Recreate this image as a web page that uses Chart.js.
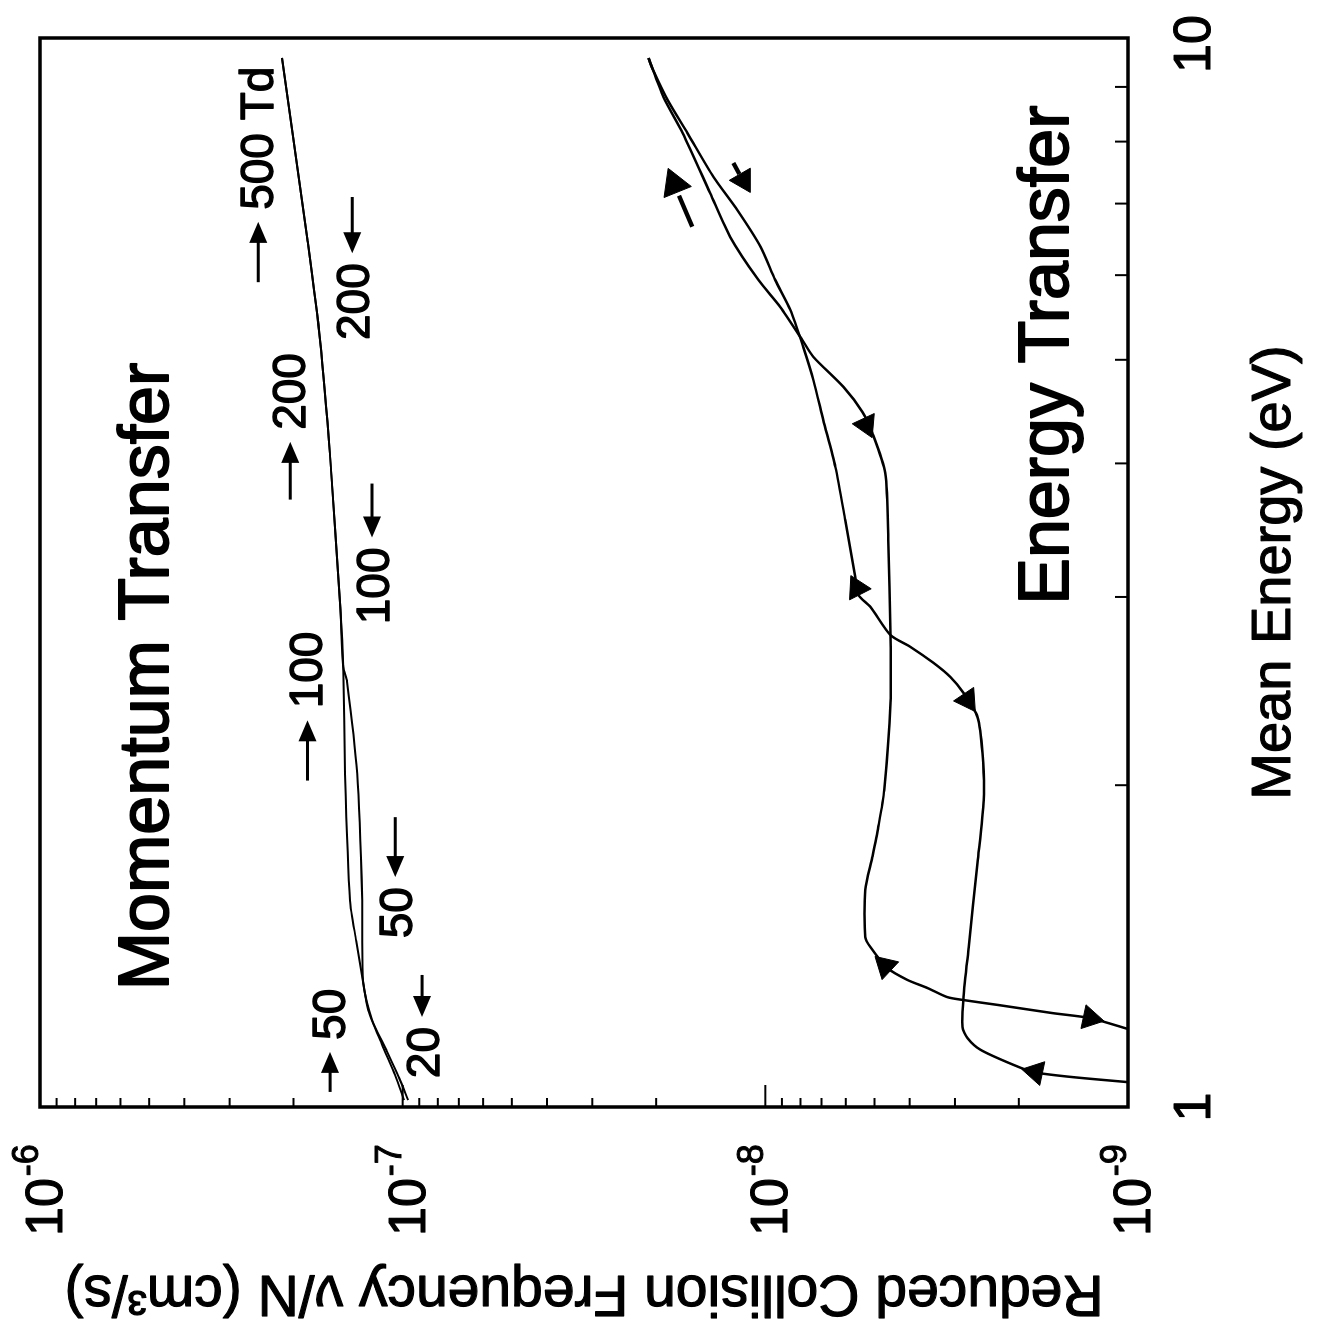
<!DOCTYPE html>
<html>
<head>
<meta charset="utf-8">
<script src="https://cdn.jsdelivr.net/npm/chart.js@4/dist/chart.umd.min.js"></script>
<style>
html,body{margin:0;padding:0;background:#fff;overflow:hidden;width:1321px;height:1342px;}
#wrap{position:absolute;left:0;top:0;width:1342px;height:1321px;transform-origin:0 0;transform:translateY(1342px) rotate(-90deg);}
canvas{display:block;}
</style>
</head>
<body>
<div id="wrap"><canvas id="c" width="1342" height="1321"></canvas></div>
<script>
// ---------- data (mean energy in eV, reduced collision frequency in cm^3/s) ----------
const momentum1Energy = [9.58, 8.03, 6.47, 5.22, 4.06, 2.94, 2.58, 2.05, 1.56, 1.43, 1.306, 1.232, 1.143, 1.071, 1.015];
const momentum1Freq   = [2.15e-7, 2.00e-7, 1.83e-7, 1.69e-7, 1.585e-7, 1.487e-7, 1.459e-7, 1.441e-7, 1.396e-7, 1.343e-7, 1.285e-7, 1.245e-7, 1.139e-7, 1.049e-7, 9.91e-8];
const momentum2Energy = [9.58, 8.03, 6.47, 5.22, 4.06, 2.94, 2.58, 2.50, 2.05, 1.56, 1.306, 1.206, 1.131, 1.064, 1.015];
const momentum2Freq   = [2.15e-7, 2.00e-7, 1.83e-7, 1.69e-7, 1.585e-7, 1.487e-7, 1.459e-7, 1.423e-7, 1.335e-7, 1.293e-7, 1.285e-7, 1.214e-7, 1.110e-7, 1.022e-7, 9.66e-8];

const energyAEnergy = [9.578, 8.808, 8.150, 7.161, 6.515, 5.938, 5.602, 5.219, 5.031, 4.716, 4.469, 4.272, 3.918, 3.392, 2.764, 2.388, 1.979, 1.828, 1.713, 1.596, 1.442, 1.411, 1.349, 1.315, 1.292, 1.267, 1.259, 1.246, 1.224, 1.211, 1.183];
const energyAFreq   = [2.10e-8, 1.91e-8, 1.69e-8, 1.42e-8, 1.25e-8, 1.045e-8, 9.09e-9, 7.91e-9, 7.37e-9, 6.09e-9, 5.40e-9, 5.07e-9, 4.67e-9, 4.58e-9, 4.52e-9, 4.52e-9, 4.70e-9, 4.88e-9, 5.07e-9, 5.30e-9, 5.30e-9, 5.13e-9, 4.61e-9, 4.06e-9, 3.57e-9, 3.15e-9, 2.84e-9, 2.29e-9, 1.61e-9, 1.27e-9, 1.0e-9];
const energyBEnergy = [9.578, 9.334, 8.750, 8.150, 7.413, 6.905, 6.376, 5.938, 5.567, 5.140, 4.787, 4.393, 3.969, 3.541, 3.132, 3.013, 2.936, 2.764, 2.694, 2.603, 2.525, 2.439, 2.316, 2.144, 1.937, 1.692, 1.411, 1.267, 1.188, 1.160, 1.131, 1.095, 1.078, 1.067, 1.055];
const energyBFreq   = [2.10e-8, 2.04e-8, 1.86e-8, 1.64e-8, 1.39e-8, 1.195e-8, 1.03e-8, 9.39e-9, 8.53e-9, 7.86e-9, 7.37e-9, 6.92e-9, 6.41e-9, 6.02e-9, 5.65e-9, 5.54e-9, 5.13e-9, 4.52e-9, 3.98e-9, 3.44e-9, 3.09e-9, 2.84e-9, 2.60e-9, 2.52e-9, 2.50e-9, 2.60e-9, 2.75e-9, 2.84e-9, 2.86e-9, 2.77e-9, 2.55e-9, 2.07e-9, 1.82e-9, 1.44e-9, 1.0e-9];

// direction arrowheads on the energy-transfer curves (last two: free arrows)
const headEnergy = [1.211, 1.355, 4.345, 1.078, 2.403, 3.058, 7.30, 7.36];
const headFreq   = [1.27e-9, 4.67e-9, 5.27e-9, 1.80e-9, 2.77e-9, 5.58e-9, 1.78e-8, 1.150e-8];
const headAngle  = [192, 43, 245, 12, 236, 63, 68, 0];
// shafts of the two free arrows
const shaftTailEnergy = [6.66, 7.64];
const shaftTailFreq   = [1.59e-8, 1.225e-8];
const shaftEndEnergy  = [7.12, 7.46];
const shaftEndFreq    = [1.73e-8, 1.179e-8];

// E/N markers along the momentum-transfer curves
const markLabels     = ['500 Td', '200', '100', '50', '200', '100', '50', '20'];
const markTailEnergy = [5.91, 3.70, 2.02, 1.033, 7.10, 3.83, 1.867, 1.329];
const markHeadEnergy = [6.73, 4.19, 2.30, 1.126, 6.29, 3.41, 1.641, 1.214];
const markFreq       = [2.50e-7, 2.04e-7, 1.83e-7, 1.585e-7, 1.378e-7, 1.214e-7, 1.049e-7, 8.84e-8];

// tick labels
const energyTickValues = [1, 10];
const energyTickLabels = ['1', '10'];
const energyMinorTicks = [2, 3, 4, 5, 6, 7, 8, 9];
const freqDecades = [-6, -7, -8, -9];

// texts
const xTitle = 'Mean Energy (eV)';
const yTitle = 'Reduced Collision Frequency \u03BD/N (cm\u00B3/s)';
const panelLabels = ['Momentum Transfer', 'Energy Transfer'];
const panelLabelEnergy = [1.286, 2.95];
const panelLabelFreq = [4.44e-7, 1.46e-9];

// ---------- chart ----------
const FONT = '"Liberation Sans", Arial, Helvetica, sans-serif';
const pts = (xs, ys) => xs.map((v, i) => ({x: v, y: ys[i]}));

const lineDs = (label, xs, ys, w) => ({
  label, data: pts(xs, ys), showLine: true, borderColor: '#000', borderWidth: w,
  pointRadius: 0, pointHoverRadius: 0, tension: 0.25, fill: false
});

function heavyText(ctx, t, x, y, w) {
  ctx.lineWidth = w; ctx.lineJoin = 'round';
  ctx.strokeText(t, x, y);
  ctx.fillText(t, x, y);
}

const decor = {
  id: 'decor',
  afterDatasetsDraw(chart) {
    const {ctx, chartArea: a, scales: {x, y}} = chart;
    const X = v => x.getPixelForValue(v), Y = v => y.getPixelForValue(v);
    const line = (x1, y1, x2, y2) => { ctx.beginPath(); ctx.moveTo(x1, y1); ctx.lineTo(x2, y2); ctx.stroke(); };
    ctx.save();
    ctx.strokeStyle = '#000'; ctx.fillStyle = '#000'; ctx.lineCap = 'butt';
    // frame
    ctx.lineWidth = 3.5;
    ctx.strokeRect(a.left, a.top, a.right - a.left, a.bottom - a.top);
    // energy minor ticks (inward)
    ctx.lineWidth = 2;
    energyMinorTicks.forEach(v => line(X(v), a.bottom, X(v), a.bottom - 13));
    // frequency ticks (inward)
    for (let d = -9; d < -6; d++) {
      for (let k = 2; k <= 9; k++) { const py = Y(k * Math.pow(10, d)); line(a.left, py, a.left + 9, py); }
      if (d > -9) { const py = Y(Math.pow(10, d)); line(a.left, py, a.left + 22, py); }
    }
    // frequency tick labels 10^n
    freqDecades.forEach(d => {
      const py = Y(Math.pow(10, d));
      ctx.textBaseline = 'alphabetic'; ctx.textAlign = 'left';
      ctx.font = '52px ' + FONT;
      const x0 = 106;
      heavyText(ctx, '10', x0, py + 22, 1.2);
      const w = ctx.measureText('10').width;
      ctx.font = '36px ' + FONT;
      heavyText(ctx, '-' + Math.abs(d), x0 + w + 2, py - 2, 1);
    });
    // energy tick labels
    ctx.font = '52px ' + FONT; ctx.textAlign = 'center'; ctx.textBaseline = 'alphabetic';
    energyTickValues.forEach((v, i) => {
      let px = X(v); if (v === 10) px -= 6;
      heavyText(ctx, energyTickLabels[i], px, 1210, 1.2);
    });
    // axis titles
    ctx.font = '56px ' + FONT; ctx.textAlign = 'center'; ctx.textBaseline = 'alphabetic';
    heavyText(ctx, xTitle, (a.left + a.right) / 2, 1290, 1.2);
    ctx.save();
    ctx.translate(66, (a.top + a.bottom) / 2); ctx.rotate(-Math.PI / 2);
    ctx.font = '57px ' + FONT;
    heavyText(ctx, yTitle, 0, 0, 1.2);
    ctx.restore();
    // panel labels
    ctx.font = '70px ' + FONT; ctx.textAlign = 'left'; ctx.textBaseline = 'alphabetic';
    panelLabels.forEach((t, i) => heavyText(ctx, t, X(panelLabelEnergy[i]), Y(panelLabelFreq[i]), 1.8));
    // E/N markers: arrow + label
    ctx.font = '46px ' + FONT; ctx.textBaseline = 'middle';
    markLabels.forEach((t, i) => {
      const x1 = X(markTailEnergy[i]), x2 = X(markHeadEnergy[i]), py = Y(markFreq[i]);
      const dir = Math.sign(x2 - x1);
      ctx.lineWidth = 3;
      line(x1, py, x2 - dir * 16, py);
      ctx.beginPath(); ctx.moveTo(x2, py); ctx.lineTo(x2 - dir * 21, py - 9); ctx.lineTo(x2 - dir * 21, py + 9); ctx.closePath(); ctx.fill();
      if (dir > 0) { ctx.textAlign = 'left'; heavyText(ctx, t, x2 + 12, py + 2, 1.3); }
      else { ctx.textAlign = 'right'; heavyText(ctx, t, x2 - 10, py + 4, 1.3); }
    });
    // shafts of free arrows
    ctx.lineWidth = 4.5;
    shaftTailEnergy.forEach((v, i) => line(X(v), Y(shaftTailFreq[i]), X(shaftEndEnergy[i]), Y(shaftEndFreq[i])));
    ctx.restore();
  }
};

new Chart(document.getElementById('c'), {
  type: 'scatter',
  data: {
    datasets: [
      lineDs('Momentum 1', momentum1Energy, momentum1Freq, 2),
      lineDs('Momentum 2', momentum2Energy, momentum2Freq, 2),
      lineDs('Energy A', energyAEnergy, energyAFreq, 2.5),
      lineDs('Energy B', energyBEnergy, energyBFreq, 2.5),
      {
        label: 'Direction', data: pts(headEnergy, headFreq), showLine: false,
        pointStyle: 'triangle', pointRadius: [14, 14, 14, 14, 14, 14, 17, 14], pointHoverRadius: 14, rotation: headAngle,
        backgroundColor: '#000', borderColor: '#000', borderWidth: 1
      }
    ]
  },
  options: {
    responsive: false, animation: false, devicePixelRatio: 1,
    layout: {padding: {top: 40, right: 38, left: 0, bottom: 0}},
    plugins: {legend: {display: false}, tooltip: {enabled: false}},
    events: [],
    scales: {
      x: {type: 'logarithmic', min: 1, max: 10, ticks: {display: false}, grid: {display: false}, border: {display: false},
          afterFit(s) { s.height = 193; }},
      y: {type: 'logarithmic', min: 1e-9, max: 1e-6, ticks: {display: false}, grid: {display: false}, border: {display: false},
          afterFit(s) { s.width = 235; }}
    }
  },
  plugins: [decor]
});
</script>
</body>
</html>
